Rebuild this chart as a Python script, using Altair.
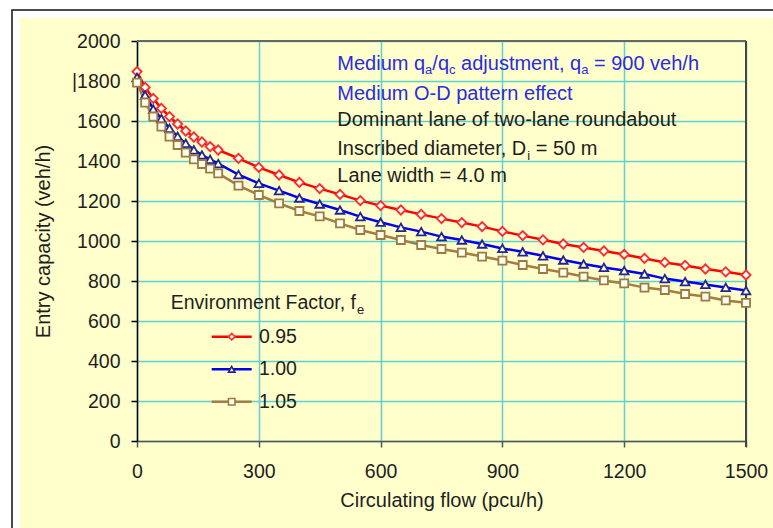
import altair as alt
import pandas as pd

# ---------------- data ----------------
flow = [0, 20, 40, 60, 80, 100, 120, 140, 160, 180, 200, 250, 300, 350, 400, 450,
        500, 550, 600, 650, 700, 750, 800, 850, 900, 950, 1000, 1050, 1100, 1150,
        1200, 1250, 1300, 1350, 1400, 1450, 1500]
cap_095 = [1847, 1768, 1713, 1663, 1622, 1585, 1550, 1520, 1495, 1472, 1455, 1413, 1368,
           1330, 1293, 1262, 1233, 1202, 1177, 1155, 1133, 1112, 1092, 1072, 1048, 1027,
           1006, 985, 968, 950, 933, 913, 893, 878, 860, 846, 830]
cap_100 = [1818, 1730, 1660, 1612, 1563, 1523, 1488, 1456, 1430, 1408, 1387, 1332, 1288,
           1252, 1215, 1185, 1155, 1122, 1094, 1068, 1047, 1022, 1005, 985, 963, 946,
           926, 905, 885, 868, 852, 835, 812, 797, 783, 768, 752]
cap_105 = [1792, 1692, 1622, 1572, 1522, 1480, 1442, 1408, 1385, 1362, 1338, 1277, 1230,
           1188, 1150, 1123, 1088, 1055, 1030, 1005, 980, 960, 942, 922, 902, 880,
           860, 842, 822, 803, 788, 767, 755, 735, 722, 703, 691]
series_names = ["0.95", "1.00", "1.05"]

x_ticks = [0, 300, 600, 900, 1200, 1500]
y_ticks = [0, 200, 400, 600, 800, 1000, 1200, 1400, 1600, 1800, 2000]
x_title = "Circulating flow (pcu/h)"
y_title = "Entry capacity (veh/h)"
legend_title = [("Environment Factor, f", False), ("e", True)]
notes = [
    ([("Medium q", False), ("a", True), ("/q", False), ("c", True),
      (" adjustment, q", False), ("a", True), (" = 900 veh/h", False)], "blue"),
    ([("Medium O-D pattern effect", False)], "blue"),
    ([("Dominant lane of two-lane roundabout", False)], "black"),
    ([("Inscribed diameter, D", False), ("i", True), (" = 50 m", False)], "black"),
    ([("Lane width = 4.0 m", False)], "black"),
]

# ---------------- styles / layout ----------------
FONT = "Liberation Sans"
W, H = 609, 400
PL, PT, PR, PB = 137, 41, 27, 87
X_MAX, Y_MAX = 1500, 2000
BG = "#FFFFCC"
GRID = "#5FD0D0"
TXT = "#1E1E1E"
TEXT_COLORS = {"blue": "#2B2BE3", "black": "#1E1E1E"}
line_colors = ["#FF0000", "#0000F0", "#A47C44"]
marker_strokes = ["#FF2A2A", "#24248C", "#9C7A40"]
marker_shapes = ["diamond", "triangle-up", "square"]
marker_sizes = [85, 64, 52]
MARKER_FILL = "#FFFFF0"

NOTE_X, NOTE_Y = 337.3, [69.5, 99.5, 125.5, 155, 182]
LEG_TITLE_X, LEG_TITLE_Y = 170.7, 309
LEG_ROWS_Y = [336.7, 369.3, 401.7]
LEG_LINE_X = (211.7, 251.7)
LEG_LABEL_X = 259

ARIAL = {" ": 278, "(": 333, ")": 333, ",": 278, "-": 333, ".": 278, "/": 278, "=": 584,
         "A": 667, "B": 667, "C": 722, "D": 722, "E": 667, "F": 611, "G": 778, "H": 722,
         "I": 278, "L": 556, "M": 833, "N": 722, "O": 778, "P": 667, "R": 722, "S": 667,
         "T": 611, "a": 556, "b": 556, "c": 500, "d": 556, "e": 556, "f": 278, "g": 556,
         "h": 556, "i": 222, "j": 222, "k": 500, "l": 222, "m": 833, "n": 556, "o": 556,
         "p": 556, "q": 556, "r": 333, "s": 500, "t": 278, "u": 556, "v": 500, "w": 722,
         "x": 500, "y": 500, "z": 500}


def text_width(s, fs):
    return sum(ARIAL.get(ch, 556) for ch in s) * fs / 1000.0


def px_to_x(px):
    return (px - PL) / W * X_MAX


def px_to_y(py):
    return (PT + H - py) / H * Y_MAX


dummy = alt.Data(values=[{"k": 0}])


def rich_text(segments, x0, y0, color, size=20, sub_size=13, sub_dy=4.5):
    out = []
    x = x0
    for txt, sub in segments:
        fs = sub_size if sub else size
        stripped = txt.lstrip(" ")
        x += text_width(txt[: len(txt) - len(stripped)], fs)
        out.append(
            alt.Chart(dummy).mark_text(
                text=stripped, align="left", baseline="alphabetic", fontSize=fs,
                color=color, font=FONT
            ).encode(x=alt.value(x - PL), y=alt.value(y0 + (sub_dy if sub else 0) - PT))
        )
        x += text_width(stripped, fs)
    return out


# ---------------- tables ----------------
rows = []
for name, vals in zip(series_names, [cap_095, cap_100, cap_105]):
    for f, c in zip(flow, vals):
        rows.append({"flow": f, "cap": c, "series": name})
df = pd.DataFrame(rows)

legend_df = pd.DataFrame({
    "series": series_names,
    "ly": [px_to_y(v) for v in LEG_ROWS_Y],
    "lx1": px_to_x(LEG_LINE_X[0]),
    "lx2": px_to_x(LEG_LINE_X[1]),
    "lmx": px_to_x((LEG_LINE_X[0] + LEG_LINE_X[1]) / 2),
    "ltx": px_to_x(LEG_LABEL_X),
})

# ---------------- scales & axes ----------------
xs = alt.Scale(domain=[0, X_MAX], nice=False, zero=False)
ys = alt.Scale(domain=[0, Y_MAX], nice=False)
color_scale = alt.Scale(domain=series_names, range=line_colors)
stroke_scale = alt.Scale(domain=series_names, range=marker_strokes)
shape_scale = alt.Scale(domain=series_names, range=marker_shapes)
size_scale = alt.Scale(domain=series_names, range=marker_sizes)

x_axis = alt.Axis(values=x_ticks, format="d", grid=True, gridColor=GRID, gridWidth=1.5,
                  domainColor="#555555",
                  domainWidth=1.5, tickColor="#555555", tickWidth=1.5, tickSize=6,
                  labelFontSize=19.5, labelColor=TXT, labelPadding=15, labelFlush=False,
                  labelFont=FONT, title=x_title, titleFontSize=20, titleFontWeight="normal",
                  titleColor=TXT, titlePadding=10, titleFont=FONT)
y_axis = alt.Axis(values=y_ticks, format="d", grid=True, gridColor=GRID, gridWidth=1.5,
                  domainColor="#000000",
                  domainWidth=1.5, tickColor="#000000", tickWidth=1.5, tickSize=6,
                  labelFontSize=19.5, labelColor=TXT, labelPadding=11, labelFont=FONT,
                  labelExpr="datum.value == 1800 ? '|1800' : datum.label",
                  title=y_title, titleFontSize=20, titleFontWeight="normal",
                  titleColor=TXT, titlePadding=18, titleFont=FONT)

# ---------------- layers ----------------
white_top = alt.Chart(dummy).mark_rect(color="white").encode(
    x=alt.value(-PL), x2=alt.value(773 - PL), y=alt.value(-PT), y2=alt.value(18 - PT))
white_left = alt.Chart(dummy).mark_rect(color="white").encode(
    x=alt.value(-PL), x2=alt.value(20 - PL), y=alt.value(-PT), y2=alt.value(528 - PT))
frame = alt.Chart(dummy).mark_rect(fill="transparent", stroke="#111111", strokeWidth=1.5).encode(
    x=alt.value(12 - PL), x2=alt.value(800 - PL), y=alt.value(10 - PT), y2=alt.value(560 - PT))
top_edge = alt.Chart(dummy).mark_rule(color="#666666", strokeWidth=2).encode(
    x=alt.value(0), x2=alt.value(W), y=alt.value(0))
right_edge = alt.Chart(dummy).mark_rule(color="#444444", strokeWidth=2).encode(
    x=alt.value(W), y=alt.value(0), y2=alt.value(H + 6))

lines = alt.Chart(df).mark_line(strokeWidth=2.5).encode(
    x=alt.X("flow:Q", scale=xs, axis=x_axis),
    y=alt.Y("cap:Q", scale=ys, axis=y_axis),
    color=alt.Color("series:N", scale=color_scale, legend=None),
)
points = alt.Chart(df).mark_point(filled=True, fill=MARKER_FILL, strokeWidth=1.8, opacity=1).encode(
    x=alt.X("flow:Q", scale=xs, axis=x_axis),
    y=alt.Y("cap:Q", scale=ys, axis=y_axis),
    stroke=alt.Stroke("series:N", scale=stroke_scale, legend=None),
    shape=alt.Shape("series:N", scale=shape_scale, legend=None),
    size=alt.Size("series:O", scale=size_scale, legend=None),
)

leg_lines = alt.Chart(legend_df).mark_rule(strokeWidth=2.5).encode(
    x=alt.X("lx1:Q", scale=xs, axis=x_axis), x2="lx2:Q",
    y=alt.Y("ly:Q", scale=ys, axis=y_axis),
    color=alt.Color("series:N", scale=color_scale, legend=None),
)
leg_points = alt.Chart(legend_df).mark_point(filled=True, fill=MARKER_FILL, strokeWidth=1.6,
                                              opacity=1, size=42).encode(
    x=alt.X("lmx:Q", scale=xs, axis=x_axis),
    y=alt.Y("ly:Q", scale=ys, axis=y_axis),
    stroke=alt.Stroke("series:N", scale=stroke_scale, legend=None),
    shape=alt.Shape("series:N", scale=shape_scale, legend=None),
)
leg_text = alt.Chart(legend_df).mark_text(align="left", baseline="middle", fontSize=19.5,
                                          color=TXT, font=FONT).encode(
    x=alt.X("ltx:Q", scale=xs, axis=x_axis),
    y=alt.Y("ly:Q", scale=ys, axis=y_axis),
    text="series:N",
)

note_layers = []
for (segs, col), yb in zip(notes, NOTE_Y):
    note_layers += rich_text(segs, NOTE_X, yb, TEXT_COLORS[col])
note_layers += rich_text(legend_title, LEG_TITLE_X, LEG_TITLE_Y, TXT, size=19.5)

chart = alt.layer(
    white_top, white_left, frame, top_edge, right_edge, lines, points,
    leg_lines, leg_points, leg_text, *note_layers
).properties(
    width=W, height=H,
    autosize=alt.AutoSizeParams(type="none"),
    padding={"left": PL, "top": PT, "right": PR, "bottom": PB},
).configure(
    background=BG, font=FONT
).configure_view(stroke="transparent")

chart.save("out.html", embed_options={"renderer": "svg", "actions": False})
